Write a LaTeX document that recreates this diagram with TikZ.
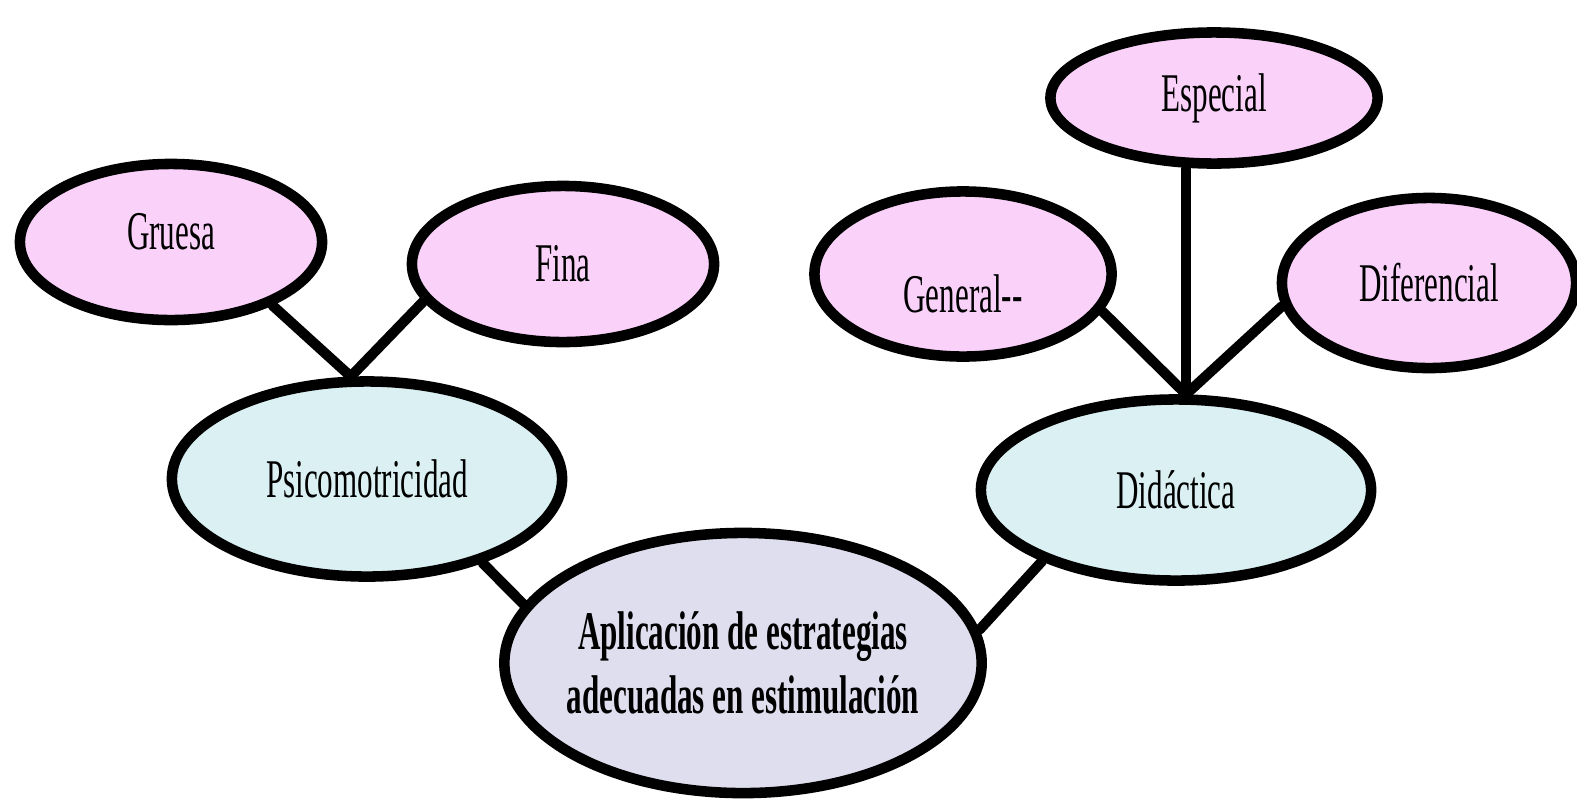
\documentclass[tikz,border=0pt]{standalone}
\usepackage{fontspec}
\setmainfont{Liberation Serif}[FakeStretch=0.57]
\usetikzlibrary{shapes.geometric,backgrounds}

\definecolor{rosa}{HTML}{F9D1F9}
\definecolor{celeste}{HTML}{DAF0F2}
\definecolor{lila}{HTML}{DFDEEE}

\begin{document}
\begin{tikzpicture}[x=0.01cm,y=-0.01cm,
  bubble/.style={ellipse,draw,line width=3pt,inner sep=0pt,font=\fontsize{15.5}{18}\selectfont},
  hoja/.style={bubble,fill=rosa},
  rama/.style={bubble,fill=celeste},
  raiz/.style={bubble,fill=lila,align=center,inner xsep=-0.18cm,font=\fontsize{15.5}{18}\selectfont\bfseries},
  conn/.style={line width=2.9pt,line cap=round}]
\useasboundingbox (0,0) rectangle (1577,803);

\node[raiz, minimum width=4.77cm, minimum height=2.6cm] (central) at (743,663) {Aplicación de estrategias\\adecuadas en estimulación};

\node[rama, minimum width=3.9cm, minimum height=1.95cm] (psico) at (367,479) {Psicomotricidad};
\node[rama, minimum width=3.9cm, minimum height=1.81cm] (didactica) at (1176,490) {Didáctica};

\node[hoja, minimum width=3.02cm, minimum height=1.56cm] (gruesa) at (171,242) {\raisebox{0.1cm}[\height][\depth]{Gruesa}};
\node[hoja, minimum width=3.02cm, minimum height=1.56cm] (fina) at (563,264) {Fina};

\node[hoja, minimum width=3.27cm, minimum height=1.31cm] (especial) at (1214,98) {Especial};
\node[hoja, minimum width=2.97cm, minimum height=1.65cm] (general) at (963,274) {\raisebox{-0.2cm}[\height][\depth]{General-{}-}};
\node[hoja, minimum width=2.94cm, minimum height=1.70cm] (diferencial) at (1429,283) {Diferencial};

\coordinate (psicoJoin) at (psico.99);
\coordinate (didJoin) at (didactica.84);

\begin{scope}[on background layer]
\path[conn]
(gruesa.328) edge (psicoJoin)
(fina.195) edge (psicoJoin)
(psico.324) edge (central.165)

(didactica.208) edge (central.8)
(general.345) edge (didJoin)
(diferencial.189) edge (didJoin)
(didJoin) edge (didJoin |- especial.south)
; %end path
\end{scope}
\end{tikzpicture}
\end{document}
